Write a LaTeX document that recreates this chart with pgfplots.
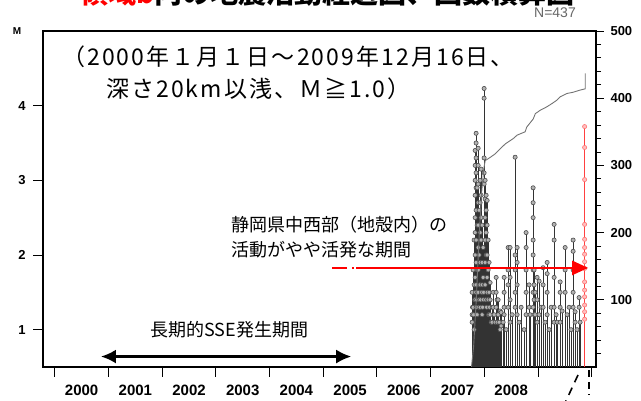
\documentclass[border=0pt]{standalone}
\usepackage{fontspec}
\setmainfont{Liberation Sans}
\newfontfamily\cjk{Noto Sans CJK JP}
\newfontfamily\cjkwide[LetterSpace=9]{Noto Sans CJK JP}
\usepackage{pgfplots}
\usepackage{pgfplotstable}
\pgfplotsset{compat=1.18}
\usetikzlibrary{arrows.meta}

% events: time (year), magnitude
\pgfplotstableread{
t M
2007.773 1.2
2007.773 1.5
2007.773 1.1
2007.780 1.3
2007.791 1.8
2007.791 1.3
2007.800 1.2
2007.810 2.2
2007.810 1.6
2007.810 1.0
2007.820 1.4
2007.829 3.4
2007.829 3.2
2007.829 3.0
2007.829 2.8
2007.829 2.5
2007.829 2.3
2007.829 2.0
2007.829 1.7
2007.829 1.4
2007.840 1.5
2007.847 3.63
2007.847 3.5
2007.847 3.3
2007.847 3.1
2007.847 2.9
2007.847 2.6
2007.847 2.2
2007.847 1.9
2007.847 1.6
2007.847 1.3
2007.857 1.4
2007.866 2.9
2007.866 2.4
2007.866 1.8
2007.866 1.2
2007.875 1.5
2007.885 3.43
2007.885 3.2
2007.885 2.95
2007.885 2.7
2007.885 2.4
2007.885 2.1
2007.885 1.8
2007.885 1.5
2007.895 1.3
2007.903 2.6
2007.903 2.0
2007.903 1.4
2007.912 1.6
2007.922 3.0
2007.922 2.7
2007.922 2.3
2007.922 1.9
2007.922 1.6
2007.922 1.3
2007.931 1.4
2007.940 3.15
2007.940 2.8
2007.940 2.5
2007.940 2.2
2007.950 1.5
2007.959 2.4
2007.959 1.9
2007.959 1.6
2007.959 1.2
2007.968 1.3
2007.978 2.1
2007.978 1.7
2007.978 1.4
2007.987 1.5
2007.996 4.23
2007.996 4.1
2007.996 3.3
2007.996 3.1
2007.996 2.95
2008.005 1.6
2008.015 3.0
2008.015 2.75
2008.015 2.5
2008.015 2.2
2008.015 1.9
2008.015 1.6
2008.025 1.4
2008.034 2.8
2008.034 2.6
2008.034 2.3
2008.034 2.0
2008.043 1.3
2008.052 2.73
2008.052 2.4
2008.052 2.0
2008.052 1.7
2008.052 1.5
2008.062 1.4
2008.071 2.2
2008.071 1.8
2008.071 1.4
2008.080 1.2
2008.089 1.9
2008.089 1.5
2008.089 1.2
2008.098 1.3
2008.108 1.63
2008.108 1.4
2008.108 1.2
2008.127 1.1
2008.145 1.3
2008.145 1.1
2008.164 1.5
2008.164 1.3
2008.183 1.2
2008.201 1.1
2008.220 1.7
2008.220 1.5
2008.220 1.3
2008.238 1.4
2008.238 1.1
2008.257 1.4
2008.257 1.2
2008.276 1.1
2008.294 1.25
2008.294 1.0
2008.313 1.23
2008.313 1.05
2008.350 1.1
2008.369 1.7
2008.369 1.5
2008.369 1.3
2008.369 1.2
2008.406 1.0
2008.443 2.1
2008.443 1.8
2008.443 1.6
2008.443 1.3
2008.480 2.1
2008.480 1.7
2008.480 1.4
2008.480 1.1
2008.518 1.2
2008.574 3.31
2008.574 2.0
2008.574 1.8
2008.574 1.5
2008.574 1.3
2008.611 2.1
2008.611 1.9
2008.611 1.6
2008.611 1.2
2008.648 1.1
2008.685 1.3
2008.741 1.0
2008.778 2.3
2008.778 2.1
2008.778 1.8
2008.778 1.5
2008.778 1.2
2008.834 1.6
2008.834 1.3
2008.853 1.2
2008.909 2.9
2008.909 2.7
2008.909 2.5
2008.909 2.2
2008.909 2.0
2008.909 1.8
2008.909 1.5
2008.909 1.3
2008.927 1.8
2008.927 1.6
2008.927 1.4
2008.927 1.2
2008.946 1.5
2008.946 1.2
2008.983 1.7
2008.983 1.4
2008.983 1.1
2009.021 1.65
2009.021 1.2
2009.058 1.3
2009.095 1.83
2009.095 1.6
2009.095 1.3
2009.132 1.1
2009.170 1.9
2009.170 1.75
2009.170 1.5
2009.170 1.2
2009.207 1.0
2009.244 1.3
2009.300 2.41
2009.300 2.2
2009.300 1.7
2009.300 1.3
2009.300 1.1
2009.337 1.2
2009.356 1.1
2009.412 1.64
2009.412 1.5
2009.412 1.3
2009.412 1.1
2009.449 1.25
2009.505 2.1
2009.505 1.8
2009.505 1.5
2009.542 1.2
2009.579 1.3
2009.616 1.0
2009.654 2.2
2009.654 2.05
2009.654 1.8
2009.654 1.5
2009.654 1.3
2009.691 1.24
2009.691 1.1
2009.728 1.0
2009.765 1.43
2009.765 1.3
2009.784 1.1
}\quakes

% events of the last swarm (red)
\pgfplotstableread{
t M
2009.868 3.72
2009.868 3.44
2009.868 3.01
2009.868 2.41
2009.868 2.21
2009.868 2.10
2009.868 2.01
2009.868 1.91
2009.868 1.82
2009.868 1.64
2009.868 1.53
2009.868 1.44
2009.868 1.33
2009.868 1.24
2009.868 1.14
}\swarm

% cumulative number of events
\pgfplotstableread{
t N
2007.760 0
2007.800 30
2007.850 100
2007.900 190
2007.950 260
2007.990 295
2008.015 307
2008.110 312
2008.200 317
2008.300 325
2008.390 332
2008.540 340
2008.610 345
2008.760 350
2008.790 357
2008.910 369
2008.950 377
2009.040 382
2009.160 387
2009.260 392
2009.350 397
2009.410 402
2009.540 407
2009.660 409
2009.780 412
2009.880 414
2009.880 437
}\cumul

\begin{document}
\begin{tikzpicture}[x=1pt,y=1pt]
\begin{axis}[
  at={(43pt,34pt)}, anchor=south west, scale only axis,
  width=553pt, height=336pt,
  xmin=1999.78, xmax=2010.08, ymin=0.5, ymax=5,
  axis line style={line width=1.5pt},
  tick align=outside, xtick pos=bottom, ytick pos=left,
  xtick={2000,2001,2002,2003,2004,2005,2006,2007,2008,2009,2010},
  x tick label as interval,
  xticklabels={2000,2001,2002,2003,2004,2005,2006,2007,2008,{}},
  ytick={1,2,3,4},
  major tick length=10pt,
  tick style={black, line width=0.9pt},
  /pgf/number format/assume math mode=true,
  x tick label style={font=\fontsize{15}{15}\selectfont\bfseries, yshift=-4pt},
  y tick label style={font=\fontsize{13}{13}\selectfont\bfseries, xshift=-4pt},
]
\addplot[ycomb, black!80, line width=0.7pt, mark=*, mark size=2.1pt,
  mark options={fill=black!30, draw=black!70, line width=0.6pt}] table[x=t, y=M] {\quakes};
\addplot[ycomb, red!75, line width=0.7pt, mark=*, mark size=2.1pt,
  mark options={fill=red!25, draw=red!55, line width=0.6pt}] table[x=t, y=M] {\swarm};
\coordinate (sseL) at (axis cs:2000.86,0.64);
\coordinate (sseR) at (axis cs:2005.52,0.64);
\coordinate (ra1) at (axis cs:2005.17,1.827);
\coordinate (ra2) at (axis cs:2005.45,1.827);
\coordinate (ra3) at (axis cs:2005.54,1.827);
\coordinate (ra4) at (axis cs:2005.58,1.827);
\coordinate (ra5) at (axis cs:2005.61,1.827);
\coordinate (ra6) at (axis cs:2009.935,1.827);
\end{axis}
\begin{axis}[
  at={(43pt,34pt)}, anchor=south west, scale only axis,
  width=553pt, height=336pt,
  xmin=1999.78, xmax=2010.08, ymin=0, ymax=500,
  axis x line=none, axis y line*=right,
  axis line style={line width=1.5pt},
  tick align=outside,
  ytick={100,200,300,400,500},
  minor ytick={20,40,60,80,120,140,160,180,220,240,260,280,320,340,360,380,420,440,460,480},
  major tick length=8pt, minor tick length=5pt,
  tick style={black, line width=0.9pt},
  /pgf/number format/assume math mode=true,
  y tick label style={font=\fontsize{13}{13}\selectfont\bfseries, xshift=3pt},
]
\addplot[black!55, line width=0.9pt] table[x=t, y=N] {\cumul};
\end{axis}

% annotations
\draw[line width=2.2pt, {Latex[length=15pt,width=14pt]}-{Latex[length=15pt,width=14pt]}] (sseL) -- (sseR);
\draw[red, line width=2.5pt] (ra1) -- (ra2) (ra3) -- (ra4);
\draw[red, line width=2.5pt, -{Triangle[length=16pt,width=14pt]}] (ra5) -- (ra6);
\draw[black, line width=1.6pt, dash pattern=on 7pt off 5pt] (589,31) -- (589,6);
\draw[black, line width=1.6pt, dash pattern=on 8pt off 6pt] (578,26) -- (565,-2);

\node[anchor=base west, inner sep=0, font=\cjk\fontsize{28}{28}\selectfont\bfseries] at (80,397)
  {\textcolor{red}{領域b}内の地震活動経過図、回数積算図};
\node[text=black!60, font=\fontsize{14}{14}\selectfont] at (555,388) {N=437};
\node[font=\fontsize{10}{10}\selectfont\bfseries] at (17,370) {M};

\node[anchor=west, inner sep=0, font=\cjkwide\fontsize{23}{23}\selectfont] at (62,344)
  {（2000年１月１日～2009年12月16日、};
\node[anchor=west, inner sep=0, font=\cjkwide\fontsize{23}{23}\selectfont] at (106,312)
  {深さ20km以浅、Ｍ≧1.0）};
\node[anchor=west, inner sep=0, font=\cjk\fontsize{18}{18}\selectfont] at (231,176)
  {静岡県中西部（地殻内）の};
\node[anchor=west, inner sep=0, font=\cjk\fontsize{18}{18}\selectfont] at (231,151)
  {活動がやや活発な期間};
\node[anchor=west, inner sep=0, font=\cjk\fontsize{18}{18}\selectfont] at (150,71)
  {長期的SSE発生期間};

\pgfresetboundingbox
\useasboundingbox (0,0) rectangle (641,401);
\end{tikzpicture}
\end{document}
